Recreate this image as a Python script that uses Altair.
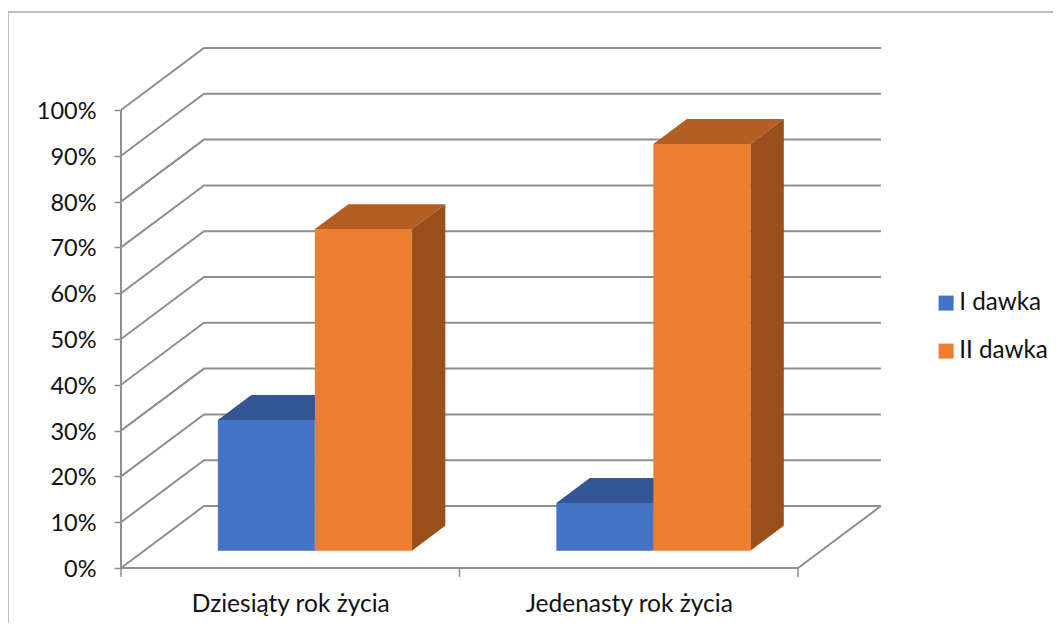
import altair as alt
import pandas as pd

# --- values ---
categories = ["Dziesiąty rok życia", "Jedenasty rok życia"]
series = ["I dawka", "II dawka"]
values_first = [28.5, 10.4]     # I dawka, %
values_second = [70.2, 88.8]    # II dawka, %
percent_ticks = list(range(0, 101, 10))
category_ticks = [0, 1, 2]

front_colors = ["#4472C4", "#ED7D31"]
top_colors = ["#335593", "#B55E24"]
side_colors = ["#2A4A85", "#9A4F1B"]
GRID = "#8F8F8F"
FRAME = "#A9A9A9"
FONT = "Lato"
FS_Y = 23.5
FS_X = 24.5
FS_L = 24.2

# --- oblique projection of the 3-D box ---
CAT_PX = 338.5
PCT_PX = 4.58
DEPTH_X = 83 / CAT_PX      # in category units
DEPTH_Y = 62 / PCT_PX      # in percent units
D0, D1 = 0.28, 0.683       # bar depth inside the box
BAR_W = 97 / CAT_PX
BAR_L = 0.2175

PW, PH = 760, 520
xdom = [0, 2 + DEPTH_X]
ydom = [0, PH / PCT_PX]

X = lambda f, ax=None: alt.X(f, type="quantitative", scale=alt.Scale(domain=xdom, nice=False, zero=False), axis=ax)
Y = lambda f, ax=None: alt.Y(f, type="quantitative", scale=alt.Scale(domain=ydom, nice=False, zero=False), axis=ax)

# grid: the wall lines
grid_rows = []
for v in percent_ticks:
    grid_rows += [
        dict(line=v, seq=0, x=0, y=v),
        dict(line=v, seq=1, x=DEPTH_X, y=v + DEPTH_Y),
        dict(line=v, seq=2, x=2 + DEPTH_X, y=v + DEPTH_Y),
    ]
grid_rows += [
    dict(line=200, seq=0, x=0, y=0), dict(line=200, seq=1, x=2, y=0),
    dict(line=200, seq=2, x=2 + DEPTH_X, y=DEPTH_Y),
    dict(line=201, seq=0, x=0, y=0), dict(line=201, seq=1, x=0, y=100),
]
grid = alt.Chart(pd.DataFrame(grid_rows)).mark_line(color=GRID, strokeWidth=2, strokeJoin="miter").encode(
    x=X("x"), y=Y("y"), detail="line:N", order="seq:Q")

# axes: labels and ticks
y_axis = alt.Chart(pd.DataFrame({"v": percent_ticks})).mark_point(opacity=0).encode(
    x=alt.value(0),
    y=Y("v", alt.Axis(values=percent_ticks, labelExpr="datum.value + '%'", domain=False, grid=False, title=None,
                      tickSize=7, tickColor=GRID, tickWidth=1.5, labelPadding=18, labelFontSize=FS_Y,
                      labelFont=FONT, labelColor="#111111", labelOffset=1.5, labelOverlap=False)))
label_expr = f"datum.value < 1 ? '{categories[0]}' : '{categories[1]}'"
x_axis = alt.Chart(pd.DataFrame({"v": [0.5, 1.5]})).mark_point(opacity=0).encode(
    y=alt.value(PH),
    x=X("v", alt.Axis(values=[0.5, 1.5], labelExpr=label_expr, domain=False, grid=False, ticks=False, title=None,
                      labelPadding=24, labelFontSize=FS_X, labelFont=FONT, labelColor="#111111",
                      labelLimit=400, labelOverlap=False)))
x_ticks = alt.Chart(pd.DataFrame({"x": category_ticks})).mark_rule(color=GRID, strokeWidth=1.5).encode(
    x=X("x"), y=alt.value(PH), y2=alt.value(PH + 9))

# bars
front_rows, top_rows, side_rows = [], [], []
for s, (name, vals) in enumerate(zip(series, [values_first, values_second])):
    for c, v in enumerate(vals):
        left = c + BAR_L + s * BAR_W
        right = left + BAR_W
        front_rows.append(dict(seria=name, x=left + D0 * DEPTH_X, x2=right + D0 * DEPTH_X,
                               y=v + D0 * DEPTH_Y, y2=D0 * DEPTH_Y))
        for d in (D0, D1):
            top_rows.append(dict(s=s, bar=c, x=left + d * DEPTH_X, x2=right + d * DEPTH_X, y=v + d * DEPTH_Y))
            side_rows.append(dict(s=s, bar=c, x=right + d * DEPTH_X, y=v + d * DEPTH_Y, y2=d * DEPTH_Y))
top_df, side_df, front_df = pd.DataFrame(top_rows), pd.DataFrame(side_rows), pd.DataFrame(front_rows)

faces = []
for s in range(2):
    faces.append(alt.Chart(top_df[top_df.s == s]).mark_area(orient="horizontal", color=top_colors[s], opacity=1).encode(
        y=Y("y"), x=X("x"), x2="x2:Q", detail="bar:N"))
    faces.append(alt.Chart(side_df[side_df.s == s]).mark_area(orient="vertical", color=side_colors[s], opacity=1).encode(
        x=X("x"), y=Y("y"), y2="y2:Q", detail="bar:N"))

fronts = alt.Chart(front_df).mark_rect(opacity=1).encode(
    x=X("x"), x2="x2:Q", y=Y("y"), y2="y2:Q",
    color=alt.Color("seria:N", scale=alt.Scale(domain=series, range=front_colors),
                    legend=alt.Legend(orient="none", legendX=813, legendY=243, title=None, symbolType="square",
                                      symbolSize=225, symbolStrokeWidth=0, symbolOpacity=1, labelFontSize=FS_L,
                                      labelFont=FONT, labelColor="#111111", rowPadding=23, labelOffset=1,
                                      labelLimit=200)))

# chart frame (left and top border)
frame_top = alt.Chart(pd.DataFrame({"a": [0]})).mark_rule(color=FRAME, strokeWidth=1.5).encode(
    x=alt.value(-113), x2=alt.value(PW + 200), y=alt.value(-36))
frame_left = alt.Chart(pd.DataFrame({"a": [0]})).mark_rule(color=FRAME, strokeWidth=1.5).encode(
    x=alt.value(-113), y=alt.value(-36), y2=alt.value(PH + 64))

chart = alt.layer(frame_top, frame_left, grid, y_axis, x_axis, x_ticks, *faces, fronts).properties(
    width=PW, height=PH,
    autosize=alt.AutoSizeParams(type="none"),
    background="white",
    padding={"left": 113, "top": 40, "right": 172, "bottom": 55},
).resolve_axis(x="independent", y="independent").configure_view(stroke=None)

chart.save("out.html", embed_options={"renderer": "svg", "actions": False})
